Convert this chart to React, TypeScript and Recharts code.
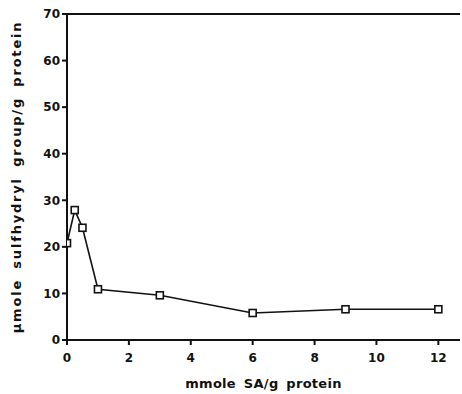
import { Label, Line, LineChart, ReferenceLine, XAxis, YAxis } from 'recharts'

const saDose = [0, 0.25, 0.5, 1, 3, 6, 9, 12]
const sulfhydryl = [20.8, 27.9, 24.1, 10.9, 9.6, 5.8, 6.6, 6.6]
const xTicks = [0, 2, 4, 6, 8, 10, 12]
const yTicks = [0, 10, 20, 30, 40, 50, 60, 70]

const data = saDose.map((x, i) => ({ x, y: sulfhydryl[i] }))

const font = 'DejaVu Sans, sans-serif'
const tick = { fill: '#111', fontSize: 12, fontWeight: 700, fontFamily: font }

function SquareDot(props: any) {
  const { cx, cy, index } = props
  if (cx == null || cy == null) return null
  return (
    <rect
      key={index}
      x={cx - 3.5}
      y={cy - 3.5}
      width={7}
      height={7}
      fill="#fff"
      stroke="#111"
      strokeWidth={1.6}
    />
  )
}

export default function App() {
  return (
    <div style={{ position: 'absolute', left: 0, top: 0, background: '#fff' }}>
      <LineChart
        width={462}
        height={394}
        data={data}
        margin={{ top: 14, right: 2, bottom: 0, left: 0 }}
      >
        <XAxis
          dataKey="x"
          type="number"
          domain={[0, 12.7]}
          ticks={xTicks}
          tick={{ ...tick, dy: 6 }}
          tickSize={5}
          stroke="#111"
          strokeWidth={2}
          height={54}
          allowDataOverflow
        >
          <Label
            value="mmole SA/g protein"
            position="insideBottom"
            offset={6}
            style={{ fill: '#111', fontSize: 13, fontWeight: 700, fontFamily: font, letterSpacing: 0.3, wordSpacing: 3 }}
          />
        </XAxis>
        <YAxis
          type="number"
          domain={[0, 70]}
          ticks={yTicks}
          tick={tick}
          tickSize={5}
          stroke="#111"
          strokeWidth={2}
          width={67}
        >
          <Label
            value="µmole sulfhydryl group/g protein"
            angle={-90}
            position="insideLeft"
            offset={16}
            style={{ fill: '#111', fontSize: 13, fontWeight: 700, fontFamily: font, textAnchor: 'middle', letterSpacing: 1.8, wordSpacing: 4 }}
          />
        </YAxis>
        <ReferenceLine y={70} stroke="#111" strokeWidth={2} />
        <Line
          type="linear"
          dataKey="y"
          stroke="#111"
          strokeWidth={1.6}
          dot={SquareDot}
          activeDot={false}
          isAnimationActive={false}
        />
      </LineChart>
    </div>
  )
}
